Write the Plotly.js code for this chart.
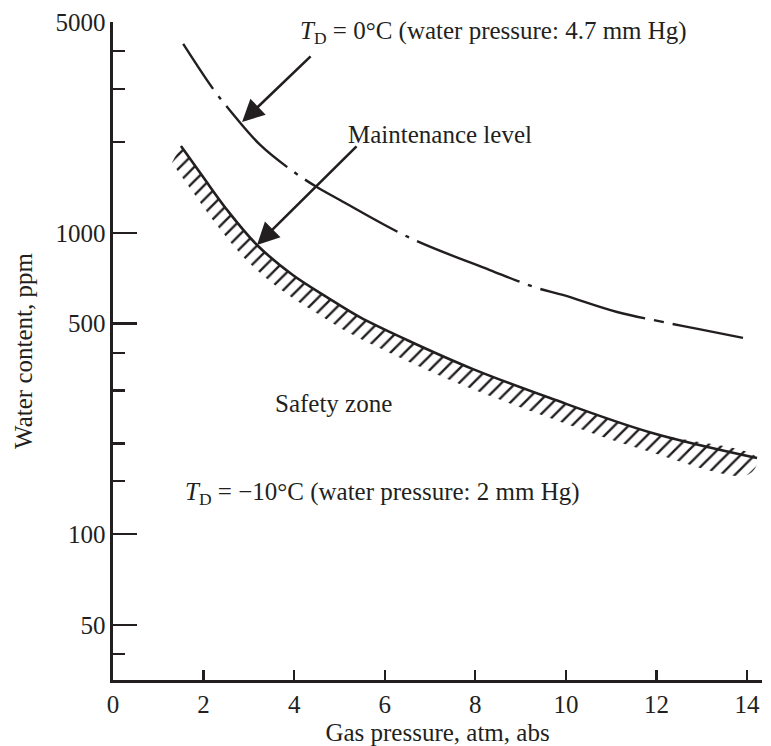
<!DOCTYPE html>
<html>
<head>
<meta charset="utf-8">
<script src="https://cdn.plot.ly/plotly-3.0.1.min.js"></script>
<style>
  html, body { margin: 0; padding: 0; background: #ffffff; }
  #chart { width: 771px; height: 746px; }
</style>
</head>
<body>
<div id="chart"></div>
<script>
// Dew point 0 °C curve (dash-dot)
const pressureTD0 = [1.55, 2.21, 2.61, 3.25, 3.97, 4.50, 5.01, 6.56, 8.32, 9.36, 9.93, 11.13, 12.25, 12.91, 13.91];
const waterTD0    = [4230, 3000, 2515, 1955, 1600, 1418, 1284, 961, 752, 656, 622, 546, 502, 480, 448];

// Maintenance level curve (solid, hatched below)
const pressureMaint = [1.50, 1.99, 2.52, 3.18, 3.97, 4.72, 5.45, 6.49, 7.95, 9.65, 11.85, 14.22];
const waterMaint    = [1940, 1530, 1190, 911, 724, 612, 525, 441, 353, 283, 218, 179];

// Axis ticks
const xTicks = [0, 2, 4, 6, 8, 10, 12, 14];
const yMajorTicks = [50, 100, 500, 1000, 5000];
const yMinorTicks = [40, 150, 200, 300, 400, 2000, 3000, 4000];

const ink = '#231f20';
const serif = 'Liberation Serif, Times New Roman, serif';

// Hatch band: a thin strip hanging below-left of the maintenance curve
const hatchDx = -0.2;       // shift in gas-pressure units
const hatchFactor = 0.88;   // multiplicative shift on the log axis
const bandX = pressureMaint.concat(pressureMaint.slice().reverse().map(v => v + hatchDx));
const bandY = waterMaint.concat(waterMaint.slice().reverse().map(v => v * hatchFactor));

const traces = [
  {
    x: bandX, y: bandY, type: 'scatter', mode: 'lines',
    fill: 'toself', line: {width: 0, color: 'rgba(0,0,0,0)', shape: 'spline', smoothing: 1},
    fillcolor: 'rgba(0,0,0,0)',
    fillpattern: {shape: '/', size: 10, solidity: 0.24, fgcolor: ink, bgcolor: 'rgba(0,0,0,0)'},
    hoverinfo: 'skip', showlegend: false
  },
  {
    x: pressureMaint, y: waterMaint, type: 'scatter', mode: 'lines',
    line: {color: ink, width: 2.6, shape: 'spline', smoothing: 1},
    showlegend: false
  },
  {
    x: pressureTD0, y: waterTD0, type: 'scatter', mode: 'lines',
    line: {color: ink, width: 2.4, shape: 'spline', smoothing: 1,
           dash: '54px,9px,4px,9px,86px,9px,4px,9px,106px,9px,4px,9px,110px,9px,4px,9px,109px,9px,10px,9px,200px'},
    showlegend: false
  }
];

const layout = {
  width: 771, height: 746,
  margin: {l: 113, r: 9, t: 22, b: 66},
  paper_bgcolor: '#ffffff', plot_bgcolor: '#ffffff',
  font: {family: serif, size: 25, color: ink},
  showlegend: false,
  xaxis: {
    range: [0, 14.33], showgrid: false, zeroline: false,
    showline: true, linecolor: ink, linewidth: 2.6,
    ticks: 'inside', ticklen: 10, tickwidth: 2.2, tickcolor: ink,
    tickmode: 'array', tickvals: xTicks, ticktext: xTicks.map(String),
    tickfont: {family: serif, size: 25, color: ink},
    title: {text: 'Gas pressure, atm, abs', font: {family: serif, size: 25, color: ink}, standoff: 8}
  },
  yaxis: {
    type: 'log', range: [1.5166, 3.699], showgrid: false, zeroline: false,
    showline: true, linecolor: ink, linewidth: 2.6,
    ticks: 'inside', ticklen: 24, tickwidth: 2.4, tickcolor: ink,
    tickmode: 'array', tickvals: yMajorTicks, ticktext: yMajorTicks.map(String),
    tickfont: {family: serif, size: 25, color: ink},
    minor: {tickmode: 'array', tickvals: yMinorTicks, ticks: 'inside', ticklen: 12, tickwidth: 2.2, tickcolor: ink, showgrid: false},
    title: {text: 'Water content, ppm', font: {family: serif, size: 25, color: ink}, standoff: 16}
  },
  annotations: [
    {x: 4.08, y: Math.log10(4600), xref: 'x', yref: 'y', xanchor: 'left', yanchor: 'middle',
     text: '<i>T</i><sub>D</sub> = 0°C (water pressure: 4.7 mm Hg)', showarrow: false,
     font: {family: serif, size: 25, color: ink}},
    {x: 7.22, y: Math.log10(2110), xref: 'x', yref: 'y', xanchor: 'center', yanchor: 'middle',
     text: 'Maintenance level', showarrow: false, font: {family: serif, size: 25, color: ink}},
    {x: 4.86, y: Math.log10(272), xref: 'x', yref: 'y', xanchor: 'center', yanchor: 'middle',
     text: 'Safety zone', showarrow: false, font: {family: serif, size: 25, color: ink}},
    {x: 1.545, y: Math.log10(137), xref: 'x', yref: 'y', xanchor: 'left', yanchor: 'middle',
     text: '<i>T</i><sub>D</sub> = \u221210°C (water pressure: 2 mm Hg)', showarrow: false,
     font: {family: serif, size: 25, color: ink}},
    // arrows
    {x: 2.85, y: Math.log10(2330), xref: 'x', yref: 'y', ax: 70, ay: -67, text: '',
     showarrow: true, arrowhead: 2, arrowsize: 1.7, arrowwidth: 2.6, arrowcolor: ink},
    {x: 3.18, y: Math.log10(911), xref: 'x', yref: 'y', ax: 101, ay: -100, text: '',
     showarrow: true, arrowhead: 2, arrowsize: 1.7, arrowwidth: 2.6, arrowcolor: ink}
  ]
};

Plotly.newPlot('chart', traces, layout, {displayModeBar: false, staticPlot: true});
</script>
</body>
</html>
